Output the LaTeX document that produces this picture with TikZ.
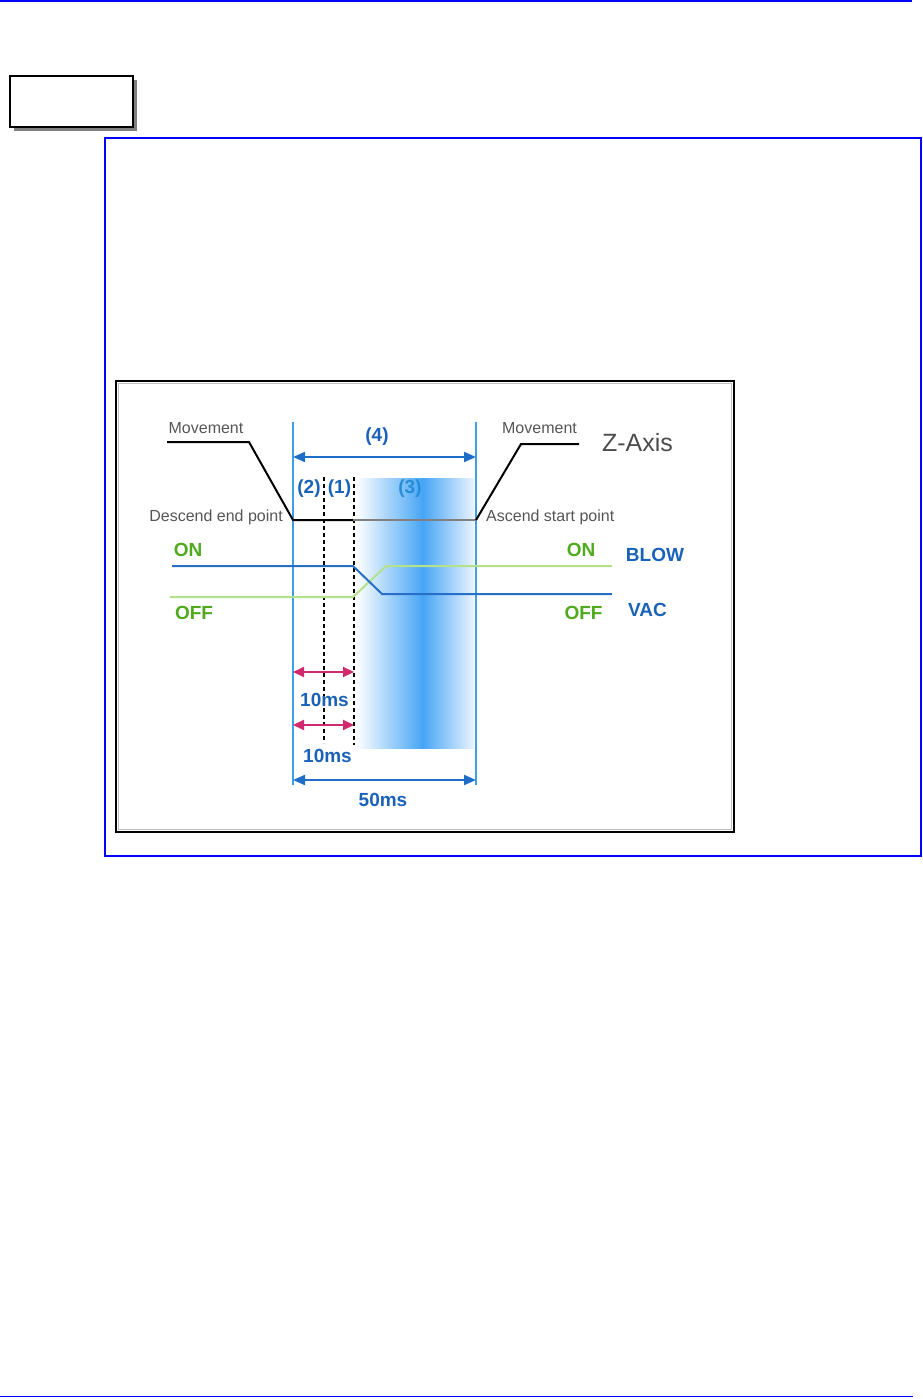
\documentclass[tikz,border=0pt]{standalone}
\usepackage{fontspec}
\setmainfont{Liberation Sans}
\usepackage{tikz}
\usetikzlibrary{
  arrows.meta,
  positioning,
  calc
}
\definecolor{pageblue}{RGB}{0,0,255}
\definecolor{labelblue}{RGB}{26,98,184}
\definecolor{phaseblue}{RGB}{40,140,215}
\definecolor{markblue}{RGB}{60,160,230}
\definecolor{arrowblue}{RGB}{30,110,200}
\definecolor{blowblue}{RGB}{40,110,200}
\definecolor{vacgreen}{RGB}{180,225,140}
\definecolor{ongreen}{RGB}{80,170,30}
\definecolor{timemagenta}{RGB}{210,40,110}
\definecolor{gradblue}{RGB}{70,165,245}
\definecolor{gradedge}{RGB}{235,244,255}
\definecolor{textgray}{RGB}{85,85,85}
\tikzset{
  boldlbl/.style={inner sep=0pt, font=\bfseries\fontsize{19}{19}\selectfont},
  bluelbl/.style={boldlbl, text=labelblue},
  greenlbl/.style={boldlbl, text=ongreen},
  graylbl/.style={inner sep=0pt, text=textgray,
    font=\fontsize{16}{16}\selectfont},
  markline/.style={markblue, line width=2pt},
  dashline/.style={black, line width=2pt, dash pattern=on 4pt off 3pt},
  barr/.style={{Triangle[length=12pt,width=10pt]}-{Triangle[length=12pt,width=10pt]},
    arrowblue, line width=2pt},
  marr/.style={{Triangle[length=11pt,width=10pt]}-{Triangle[length=11pt,width=10pt]},
    timemagenta, line width=2pt},
}

\begin{document}
\begin{tikzpicture}[
  x=1pt, y=-1pt,
  zline/.style={line width=2pt, line join=miter},
  sigline/.style={line width=2pt}
]
  \useasboundingbox (0,0) rectangle (922,1399);

  % page rules
  \draw[pageblue, line width=1.5pt] (0,1) -- (912,1);
  \draw[pageblue, line width=1.5pt] (0,1396.5) -- (913,1396.5);

  % title box
  \fill[gray] (14,80) rectangle (137,131);
  \draw[fill=white, line width=1.5pt] (10,76) rectangle (133,127);

  % frames
  \draw[pageblue, line width=1.2pt] (105,138) rectangle (921,856);
  \draw[line width=2.5pt] (116,381) rectangle (734,832);
  \draw[gray!50, line width=0.8pt] (118.5,383.5) rectangle (731.5,829.5);

  % phase (3)
  \shade[left color=white, right color=gradblue] (356,478) rectangle (423,748);
  \shade[left color=gradblue, right color=gradedge] (422.5,478) rectangle (474,748);

  % time marks
  \coordinate (t0) at (293,422);  \coordinate (t0b) at (293,785);
  \coordinate (t5) at (476,422);  \coordinate (t5b) at (476,785);
  \coordinate (t1) at (324,477);  \coordinate (t1b) at (324,743);
  \coordinate (t2) at (353.5,477);\coordinate (t2b) at (353.5,745);
  \draw[markline] (t0) -- (t0b);
  \draw[markline] (t5) -- (t5b);
  \draw[dashline] (t1) -- (t1b);
  \draw[dashline] (t2) -- (t2b);

  % Z-Axis
  \coordinate (z1) at (167,442);
  \coordinate (z2) at (249,442);
  \coordinate (z3) at (293,520);
  \coordinate (z4) at (353,520);
  \coordinate (z5) at (476,520);
  \coordinate (z6) at (521,444);
  \coordinate (z7) at (579,444);
  \draw[zline] (z1) -- (z2) -- (z3) -- (z4);
  \draw[zline, gray] (z4) -- (z5);
  \draw[zline] (z5) -- (z6) -- (z7);

  % BLOW / VAC
  \coordinate (b1) at (172,566);
  \coordinate (b2) at (353,566);
  \coordinate (b3) at (382,594);
  \coordinate (b4) at (612,594);
  \coordinate (v1) at (170,597);
  \coordinate (v2) at (353,597);
  \coordinate (v3) at (386,566);
  \coordinate (v4) at (612,566);
  \draw[sigline, vacgreen] (v1) -- (v2) -- (v3) -- (v4);
  \draw[sigline, blowblue] (b1) -- (b2) -- (b3) -- (b4);

  % Arrows
  \coordinate (a4l) at (293,457);   \coordinate (a4r) at (476,457);
  \coordinate (m1l) at (293,672);   \coordinate (m1r) at (354,672);
  \coordinate (m2l) at (293,725);   \coordinate (m2r) at (354,725);
  \coordinate (a50l) at (293,780);  \coordinate (a50r) at (476,780);
  \draw[barr] (a4l) -- (a4r);
  \draw[marr] (m1l) -- (m1r);
  \draw[marr] (m2l) -- (m2r);
  \draw[barr] (a50l) -- (a50r);

  % Labels
  \node[bluelbl] (ph4) at (377,437) {(4)};
  \node[bluelbl] (ph2) at (309,489) {(2)};
  \node[bluelbl] (ph1) at (339.5,489) {(1)};
  \node[boldlbl, text=phaseblue] (ph3) at (410,489) {(3)};
  \node[graylbl] (movl) at (206,428) {Movement};
  \node[graylbl] (movr) at (539.5,428) {Movement};
  \node[inner sep=0pt, text=textgray!90!black, font=\fontsize{25}{25}\selectfont]
    (zaxis) at (637.5,443) {Z-Axis};
  \node[graylbl, anchor=east] (desc) at (283,517.5) {Descend end point};
  \node[graylbl, anchor=west] (asc) at (486,517.5) {Ascend start point};
  \node[greenlbl] (onl) at (188,550) {ON};
  \node[greenlbl] (offl) at (194,613) {OFF};
  \node[greenlbl] (onr) at (581,550) {ON};
  \node[greenlbl] (offr) at (583.5,613) {OFF};
  \node[bluelbl] (blow) at (655,554.5) {BLOW};
  \node[bluelbl] (vac) at (647.5,610) {VAC};
  \node[bluelbl] (ms10a) at (324.5,700) {10ms};
  \node[bluelbl] (ms10b) at (327.5,756) {10ms};
  \node[bluelbl] (ms50) at (383,800) {50ms};
\end{tikzpicture}
\end{document}
